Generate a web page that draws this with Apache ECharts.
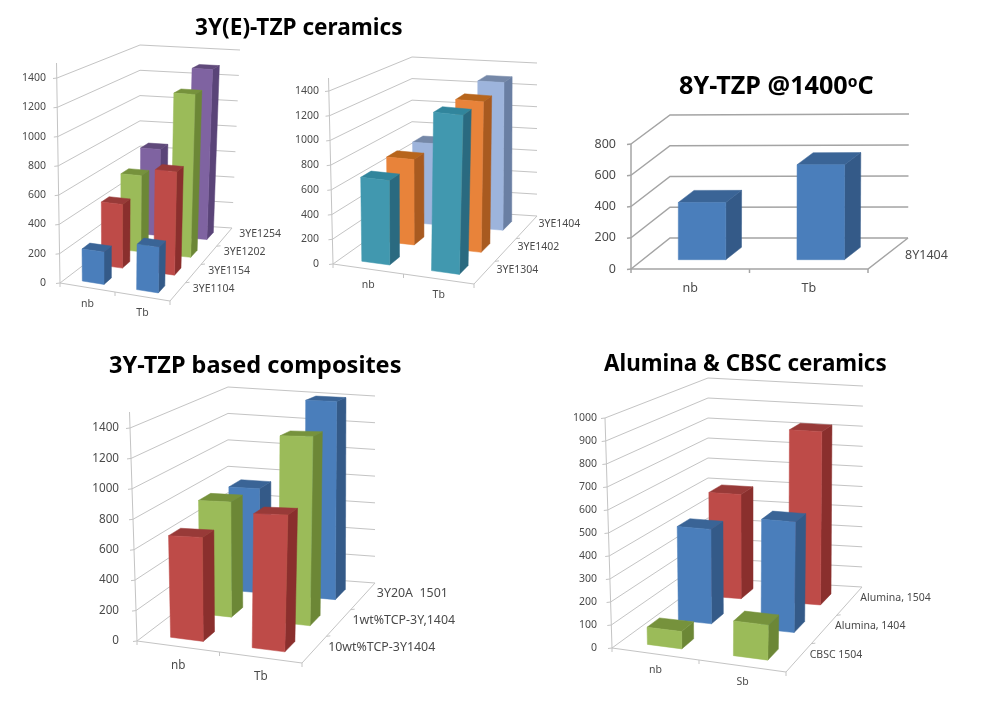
<!DOCTYPE html>
<html><head><meta charset="utf-8">
<style>html,body{margin:0;padding:0;background:#fff}#c{width:987px;height:706px}</style>
<script src="https://cdn.jsdelivr.net/npm/echarts@6/dist/echarts.min.js"></script>
</head><body><div id="c"></div>
<script>
// ---- data ----
const p1Categories = ['nb','Tb'];
const p1Names = ['3YE1104','3YE1154','3YE1202','3YE1254'];
const p1Values = [[220,305],[450,720],[560,1185],[660,1295]];
const p1Ticks = [0,200,400,600,800,1000,1200,1400];

const p2Categories = ['nb','Tb'];
const p2Names = ['3YE1304','3YE1402','3YE1404'];
const p2Values = [[685,1275],[725,1265],[720,1305]];
const p2Ticks = [0,200,400,600,800,1000,1200,1400];

const p3Categories = ['nb','Tb'];
const p3Names = ['8Y1404'];
const p3Values = [[368,610]];
const p3Ticks = [0,200,400,600,800];

const p4Categories = ['nb','Tb'];
const p4Names = ['10wt%TCP-3Y1404','1wt%TCP-3Y,1404','3Y20A  1501'];
const p4Values = [[665,830],[780,1235],[750,1400]];
const p4Ticks = [0,200,400,600,800,1000,1200,1400];

const p5Categories = ['nb','Sb'];
const p5Names = ['CBSC 1504','Alumina, 1404','Alumina, 1504'];
const p5Values = [[75,148],[430,495],[500,825]];
const p5Ticks = [0,100,200,300,400,500,600,700,800,900,1000];

// ---- styling ----
const BLUE={f:'#4a7ebb',s:'#345a88',t:'#3a6496'}, RED={f:'#be4b48',s:'#8a2f2d',t:'#983a38'},
 GREEN={f:'#9bbb59',s:'#6c8736',t:'#76923c'}, PURPLE={f:'#7f63a1',s:'#5a4478',t:'#604a7b'},
 TEAL={f:'#4198af',s:'#2a6a80',t:'#31859c'}, ORANGE={f:'#e8833a',s:'#a85a20',t:'#b7651c'},
 LIGHT={f:'#9db4dc',s:'#6a7fa3',t:'#7588a8'};

// frame corners of each panel's 3D box: floor and wall top at front/back, left/right
const panels = [
 {cats:p1Categories,names:p1Names,vals:p1Values,ticks:p1Ticks,colors:[BLUE,RED,GREEN,PURPLE],
  FL:[60,283],FR:[170,301],BL:[140,222],BR:[232,228],FLt:[57,78],FRt:[174,88],BLt:[140,45],BRt:[240,50],
  axisTop:63,labelRight:46,fs:10.5,nameFs:10.5,catDy:17,nameDx:15,nameDy:-3,grid:'#c4c4c4',gw:1},
 {cats:p2Categories,names:p2Names,vals:p2Values,ticks:p2Ticks,colors:[TEAL,ORANGE,LIGHT],
  FL:[333,264],FR:[474,284],BL:[412,208],BR:[537,216],FLt:[329,91],FRt:[480,106],BLt:[412,57],BRt:[537,63],
  axisTop:78,labelRight:319,fs:10.5,nameFs:10.5,catDy:16,nameDx:12,nameDy:-3,grid:'#c4c4c4',gw:1},
 {cats:p3Categories,names:p3Names,vals:p3Values,ticks:p3Ticks,colors:[BLUE],
  FL:[631,269],FR:[868,269],BL:[670,238],BR:[908,238],FLt:[631,144],FRt:[868,144],BLt:[670,115],BRt:[909,114],
  axisTop:144,labelRight:616,fs:12.5,nameFs:12.5,catDy:19,nameDx:17,nameDy:1.5,grid:'#a4a4a4',gw:1.5},
 {cats:p4Categories,names:p4Names,vals:p4Values,ticks:p4Ticks,colors:[RED,GREEN,BLUE],
  FL:[137,641],FR:[302,663],BL:[228,572],BR:[375,583],FLt:[130,428],FRt:[310,423],BLt:[228,387],BRt:[375,396],
  axisTop:412,labelRight:119,fs:11.7,nameFs:12.4,catDy:19,nameDx:14,nameDy:-2.5,grid:'#c4c4c4',gw:1},
 {cats:p5Categories,names:p5Names,vals:p5Values,ticks:p5Ticks,colors:[GREEN,BLUE,RED],
  FL:[612,648],FR:[786,672],BL:[708,578],BR:[862,587],FLt:[605,418],FRt:[792,430],BLt:[708,378],BRt:[863,386],
  axisTop:418,labelRight:597,fs:10.5,nameFs:10.5,catDy:16,nameDx:11,nameDy:-3,grid:'#c4c4c4',gw:1}
];

const titleFont='"Noto Sans",sans-serif';
const titles=[
 {text:'3Y(E)-TZP ceramics',left:195,top:17,fs:22.6},
 {text:'{a|8Y-TZP @1400}{s|o}{a|C}',left:679,top:74,fs:25.2,rich:true},
 {text:'3Y-TZP based composites',left:109,top:354,fs:23.5},
 {text:'Alumina & CBSC ceramics',left:604,top:354,fs:22.4}
];

function lerp(a,b,t){return [a[0]+(b[0]-a[0])*t,a[1]+(b[1]-a[1])*t];}
function projector(p){
 return function(u,v,h){
  const fb=lerp(p.FL,p.FR,u), bb=lerp(p.BL,p.BR,u), ft=lerp(p.FLt,p.FRt,u), bt=lerp(p.BLt,p.BRt,u);
  return lerp(lerp(fb,bb,v),lerp(ft,bt,v),h);
 };
}
const series=[],grids=[],xAxes=[],yAxes=[];
panels.forEach(function(p,idx){
 const P=projector(p), maxV=p.ticks[p.ticks.length-1], textCol='#4a4a4a';
 const font='"Noto Sans",sans-serif';
 grids.push({left:p.FL[0],top:p.FLt[1],width:p.FR[0]-p.FL[0],height:p.FL[1]-p.FLt[1]});
 xAxes.push({gridIndex:idx,type:'category',data:p.cats,show:false});
 yAxes.push({gridIndex:idx,type:'value',min:0,max:maxV,interval:p.ticks[1]-p.ticks[0],
  axisLine:{show:false},axisTick:{show:false},splitLine:{show:false},
  axisLabel:{margin:p.FL[0]-p.labelRight,color:textCol,fontFamily:font,fontSize:p.fs,
    formatter:function(v){return String(v);}}});
 const line=function(pts,w,col){return {type:'polyline',shape:{points:pts},silent:true,style:{stroke:col||p.grid,lineWidth:w||p.gw,fill:null}};};
 // walls: one gridline per tick
 series.push({type:'custom',xAxisIndex:idx,yAxisIndex:idx,silent:true,z:1,clip:false,
  data:p.ticks.map(function(t){return [0,t];}),
  encode:{x:0,y:1},
  renderItem:function(params,api){
   const r=params.coordSys,c=api.coord([0,api.value(1)]),h=(r.y+r.height-c[1])/r.height;
   const a=P(0,0,h),b=P(0,1,h),d=P(1,1,h);
   return {type:'group',children:[line([a,b,d]),line([[a[0]-4,a[1]+0.5],a])]};
  }});
 // floor edges and axis line
 series.push({type:'custom',xAxisIndex:idx,yAxisIndex:idx,silent:true,z:1,clip:false,
  data:[[0,0]],encode:{x:0,y:1},
  renderItem:function(){
   const kids=[line([P(0,0,0),P(1,0,0),P(1,1,0)]),
     line([P(0,0,0),[P(0,0,1)[0]-(p.axisTop<p.FLt[1]?0.5:0),p.axisTop]])];
   [0,0.5,1].forEach(function(u){const q=P(u,0,0);kids.push(line([q,[q[0],q[1]+4]]));});
   for(let j=1;j<p.names.length;j++){const q=P(1,j/p.names.length,0);kids.push(line([q,[q[0]+4,q[1]-0.5]]));}
   return {type:'group',children:kids};
  }});
 // bars, back row first
 for(let j=p.names.length-1;j>=0;j--){
  (function(j){
   const col=p.colors[j], n=p.names.length;
   series.push({type:'custom',name:p.names[j],xAxisIndex:idx,yAxisIndex:idx,clip:false,z:5+(n-j),
    data:p.vals[j].map(function(v,i){return [i,v];}),encode:{x:0,y:1},
    renderItem:function(params,api){
     const r=params.coordSys,cat=api.value(0),c=api.coord([cat,api.value(1)]),
      bw=api.size([1,0])[0]/2.5;
     const u0=(c[0]-bw/2-r.x)/r.width,u1=(c[0]+bw/2-r.x)/r.width,h=(r.y+r.height-c[1])/r.height;
     const v0=(j+0.5)/n-0.2/n,v1=(j+0.5)/n+0.2/n;
     const poly=function(pts,fill){return {type:'polygon',shape:{points:pts},style:{fill:fill,stroke:fill,lineWidth:0.5}};};
     return {type:'group',children:[
      poly([P(u1,v0,0),P(u1,v1,0),P(u1,v1,h),P(u1,v0,h)],col.s),
      poly([P(u0,v0,h),P(u1,v0,h),P(u1,v1,h),P(u0,v1,h)],col.t),
      poly([P(u0,v0,0),P(u1,v0,0),P(u1,v0,h),P(u0,v0,h)],col.f)
     ]};
    }});
  })(j);
 }
 // category labels under the front floor edge
 series.push({type:'custom',xAxisIndex:idx,yAxisIndex:idx,silent:true,z:2,clip:false,
  data:p.cats.map(function(n,i){return [i,0];}),encode:{x:0,y:1},
  renderItem:function(params,api){
   const r=params.coordSys,i=api.value(0),c=api.coord([i,0]),q=P((c[0]-r.x)/r.width,0,0);
   return {type:'text',style:{text:p.cats[i],x:q[0],y:q[1]+p.catDy,align:'center',verticalAlign:'middle',
     fill:textCol,fontFamily:font,fontSize:p.fs}};
  }});
 // series names along the depth edge
 series.push({type:'custom',xAxisIndex:idx,yAxisIndex:idx,silent:true,z:2,clip:false,
  data:p.names.map(function(n,j){return [0,j];}),encode:{x:0,y:1},
  renderItem:function(params,api){
   const j=api.value(1),q=P(1,(j+0.5)/p.names.length,0);
   return {type:'text',style:{text:p.names[j],x:q[0]+p.nameDx,y:q[1]+p.nameDy,align:'left',verticalAlign:'middle',
     fill:textCol,fontFamily:font,fontSize:p.nameFs}};
  }});
});

const chart=echarts.init(document.getElementById('c'),null,{renderer:'canvas'});
chart.setOption({
 animation:false,backgroundColor:'#fff',tooltip:{show:false},
 title:titles.map(function(t){
  const s={fontFamily:titleFont,fontSize:t.fs,fontWeight:'bold',color:'#000'};
  if(t.rich){s.rich={a:{fontFamily:titleFont,fontSize:t.fs,fontWeight:'bold',color:'#000'},
    s:{fontFamily:titleFont,fontSize:t.fs*0.62,fontWeight:'bold',color:'#000',padding:[0,0,7,0]}};}
  return {text:t.text,left:t.left,top:t.top,padding:0,textStyle:s};
 }),
 grid:grids,xAxis:xAxes,yAxis:yAxes,series:series
});
</script></body></html>
